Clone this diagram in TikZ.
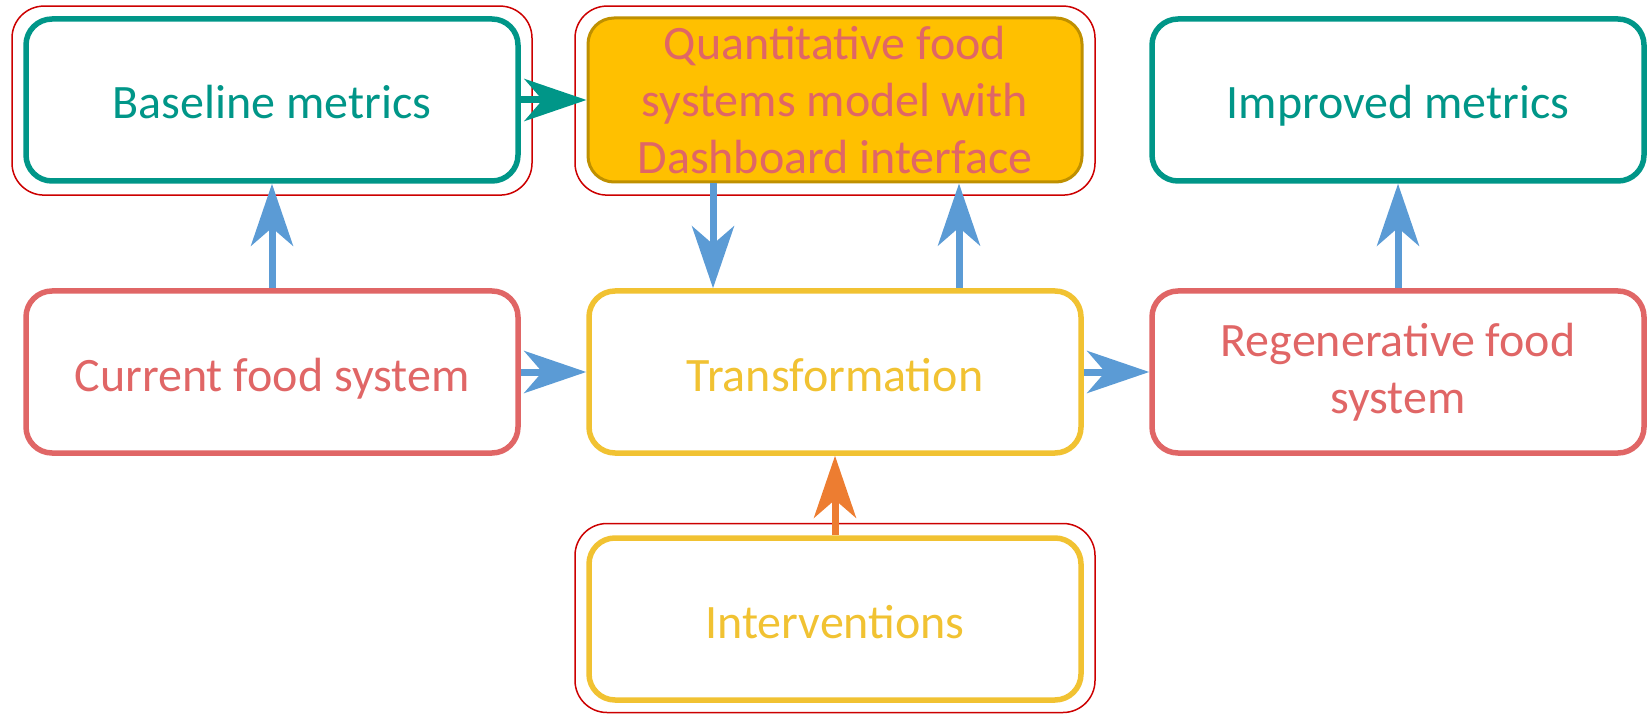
\documentclass[tikz,border=0pt]{standalone}
\usepackage{fontspec}
\setmainfont{Carlito}
\usetikzlibrary{arrows.meta,calc}
\definecolor{tealc}{RGB}{0,150,136}
\definecolor{redc}{RGB}{224,102,102}
\definecolor{yelc}{RGB}{241,194,50}
\definecolor{orfill}{RGB}{255,192,0}
\definecolor{ordraw}{RGB}{191,144,0}
\definecolor{bluec}{RGB}{91,155,213}
\definecolor{orangec}{RGB}{237,125,49}
\definecolor{redline}{RGB}{204,0,0}
\begin{document}
\begin{tikzpicture}[x=0.5pt,y=-0.5pt]
\tikzset{
 box/.style={rounded corners=13pt, line width=2.75pt, minimum width=246pt, minimum height=81pt, align=center, font=\fontsize{24}{28.5}\selectfont, inner sep=0pt},
 oneline/.style={text height=20pt, text depth=1pt},
 outerbox/.style={draw=redline, line width=0.75pt, rounded corners=16pt, minimum width=260pt, minimum height=94.5pt, inner sep=0pt},
 arr/.style={line width=3.5pt, -{Stealth[length=31pt,width=21pt,inset=9pt]}},
}
\useasboundingbox (0,0) rectangle (1652,716);
% outer red frames
\node[outerbox] (bmo) at (272,100.6) {};
\node[outerbox] (qmo) at (835,100.6) {};
\node[outerbox] (ivo) at (835,618) {};
% boxes
\node[box, oneline, draw=tealc, text=tealc] (bm) at (272,100) {Baseline metrics};
\node[box, draw=ordraw, fill=orfill, text=redc, line width=1.5pt, minimum width=247pt, minimum height=82pt] (qm) at (835,100) {\raisebox{-1.5pt}{\parbox{246pt}{\centering Quantitative food\\systems model with\\Dashboard interface}}};
\node[box, oneline, draw=tealc, text=tealc] (im) at (1398,100) {Improved metrics};
\node[box, oneline, draw=redc, text=redc] (cf) at (272,372) {Current food system};
\node[box, oneline, draw=yelc, text=yelc] (tr) at (835,372) {Transformation};
\node[box, draw=redc, text=redc] (rf) at (1398,372) {Regenerative food\\system};
\node[box, oneline, draw=yelc, text=yelc] (iv) at (835,619) {Interventions};
% arrows
\draw[arr, bluec] (cf.north) -- (bm.south);
\draw[arr, tealc] (bm.east) -- (qm.west);
\draw[arr, bluec] (cf.east) -- (tr.west);
\draw[arr, bluec] ([xshift=-61pt]qm.south) -- ([xshift=-61pt]tr.north);
\draw[arr, bluec] ([xshift=62pt]tr.north) -- ([xshift=62pt]qm.south);
\draw[arr, bluec] (tr.east) -- (rf.west);
\draw[arr, bluec] (rf.north) -- (im.south);
\draw[arr, orangec] (iv.north) -- (tr.south);
\end{tikzpicture}
\end{document}
